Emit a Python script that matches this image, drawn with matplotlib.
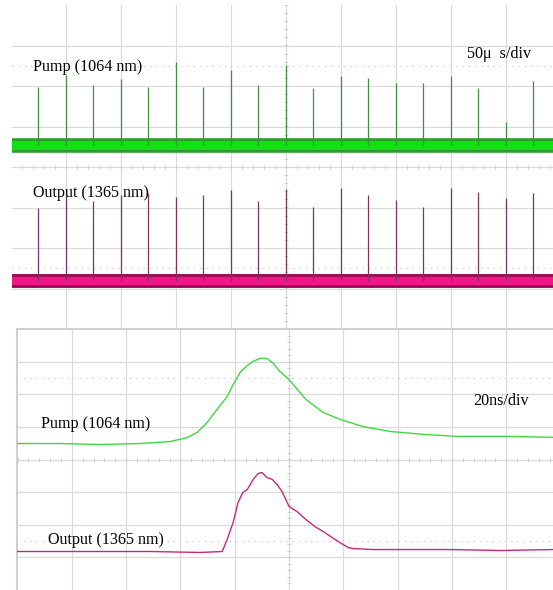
import numpy as np
import matplotlib
matplotlib.use('Agg')
import matplotlib.pyplot as plt

plt.rcParams['font.family'] = ['Liberation Serif', 'DejaVu Serif']

# top screen: pulse trains (50 us/div), values in divisions
pulse_t = [-4.5, -4.0, -3.5, -3.0, -2.5, -2.0, -1.5, -1.0, -0.5, 0.0,
           0.5, 1.0, 1.5, 2.0, 2.5, 3.0, 3.5, 4.0, 4.5]
pump_base = 0.54
pump_peaks = [1.98, 2.27, 2.02, 2.17, 1.98, 2.59, 1.98, 2.40, 2.02, 2.52,
              1.95, 2.25, 2.20, 2.07, 2.07, 2.25, 1.95, 1.11, 2.12]
out_base = -2.81
out_peaks = [-1.01, -0.69, -0.84, -0.69, -0.64, -0.74, -0.69, -0.57, -0.84, -0.54,
             -0.99, -0.52, -0.69, -0.81, -0.99, -0.52, -0.62, -0.77, -0.64]

# bottom screen: single pulse (20 ns/div), values in divisions
pump_t = [-5.01, -4.22, -3.48, -2.74, -2.19, -1.88, -1.69, -1.51, -1.33, -1.14,
          -1.03, -0.90, -0.77, -0.66, -0.53, -0.41, -0.29, -0.17, 0.0, 0.31,
          0.63, 0.94, 1.36, 1.86, 2.47, 3.08, 4.00, 4.86]
pump_v = [0.49, 0.49, 0.46, 0.49, 0.55, 0.67, 0.83, 1.13, 1.53, 1.93,
          2.30, 2.67, 2.88, 3.01, 3.10, 3.10, 2.94, 2.70, 2.45, 1.84,
          1.44, 1.23, 1.01, 0.86, 0.77, 0.71, 0.71, 0.68]
out_t = [-5.01, -3.48, -2.56, -1.64, -1.23, -1.14, -1.03, -0.94, -0.85, -0.77,
         -0.66, -0.57, -0.50, -0.41, -0.31, -0.22, -0.13, 0.0, 0.15, 0.31,
         0.48, 0.63, 0.79, 0.94, 1.09, 1.18, 1.55, 2.04, 2.97, 3.89, 4.86]
out_v = [-2.82, -2.82, -2.82, -2.85, -2.82, -2.45, -1.93, -1.32, -1.01, -0.92,
         -0.61, -0.43, -0.40, -0.55, -0.61, -0.77, -0.98, -1.44, -1.60, -1.84,
         -2.06, -2.21, -2.39, -2.55, -2.70, -2.73, -2.76, -2.76, -2.76, -2.79, -2.76]

grid_c = '#dadada'


def scope_grid(ax, frame=False):
    for v in range(-4, 5):
        ax.axvline(v, color=grid_c, lw=0.9, zorder=0)
    for h in range(-3, 4):
        ax.axhline(h, color=grid_c, lw=0.9, zorder=0)
    for h in (-2.5, 2.5):
        ax.axhline(h, color='#cccccc', lw=0.9, ls=(0, (1, 4)), zorder=0)
    ticks = np.arange(-5, 5.01, 0.2)
    ax.plot(ticks, np.zeros_like(ticks), ls='none', marker='|', ms=2.5,
            color='#cfcfcf', mew=0.7, zorder=0)
    ax.plot(np.zeros_like(ticks), ticks, ls='none', marker='_', ms=2.5,
            color='#cfcfcf', mew=0.7, zorder=0)
    ax.set_xticks([])
    ax.set_yticks([])
    for side in ('right', 'bottom'):
        ax.spines[side].set_visible(False)
    for side in ('left', 'top'):
        if frame:
            ax.spines[side].set_color('#d0d0d0')
            ax.spines[side].set_linewidth(1.5)
        else:
            ax.spines[side].set_visible(False)


fig = plt.figure(figsize=(5.53, 5.90), dpi=100)

ax1 = fig.add_axes([12 / 553, 261 / 590, 541 / 553, 324 / 590])
ax1.set_xlim(-4.98, 4.855)
ax1.set_ylim(-4, 4)
scope_grid(ax1)
ax1.plot([-5, 5], [pump_base, pump_base], color='#2f9a2f', lw=10.5, solid_capstyle='butt', zorder=2)
ax1.plot([-5, 5], [pump_base, pump_base], color='#11e011', lw=6.5, solid_capstyle='butt', zorder=2)
ax1.vlines(pulse_t, pump_base, pump_peaks, color='#3f8f3f', lw=0.9, zorder=3)
ax1.plot([-5, 5], [out_base, out_base], color='#9a0a55', lw=10, solid_capstyle='butt', zorder=2)
ax1.plot([-5, 5], [out_base, out_base], color='#ec1888', lw=6, solid_capstyle='butt', zorder=2)
ax1.vlines(pulse_t, out_base, out_peaks, color='#7d3465', lw=0.9, zorder=3)
ax1.text(-4.6, 2.47, 'Pump (1064 nm)', fontsize=11.6, va='center', zorder=5)
ax1.text(3.3, 2.8, '50\u03bc  s/div', fontsize=11.6, va='center', zorder=5)
ax1.text(-4.6, -0.64, 'Output (1365 nm)', fontsize=11.6, va='center', zorder=5)

ax2 = fig.add_axes([17 / 553, 0, 536 / 553, 261 / 590])
ax2.set_xlim(-5.01, 4.86)
ax2.set_ylim(-4, 4)
scope_grid(ax2, frame=True)
ax2.plot(pump_t, pump_v, color='#3fd83f', lw=1.0, zorder=3)
ax2.plot(out_t, out_v, color='#c42a7c', lw=1.0, zorder=3)
ax2.text(-4.56, 1.10, 'Pump (1064 nm)', fontsize=11.6, va='center', zorder=5)
ax2.text(3.4, 1.78, '20ns/div', fontsize=11.6, va='center', zorder=5)
ax2.text(-4.43, -2.46, 'Output (1365 nm)', fontsize=11.6, va='center', zorder=5)

fig.savefig('out.png', dpi=100)
